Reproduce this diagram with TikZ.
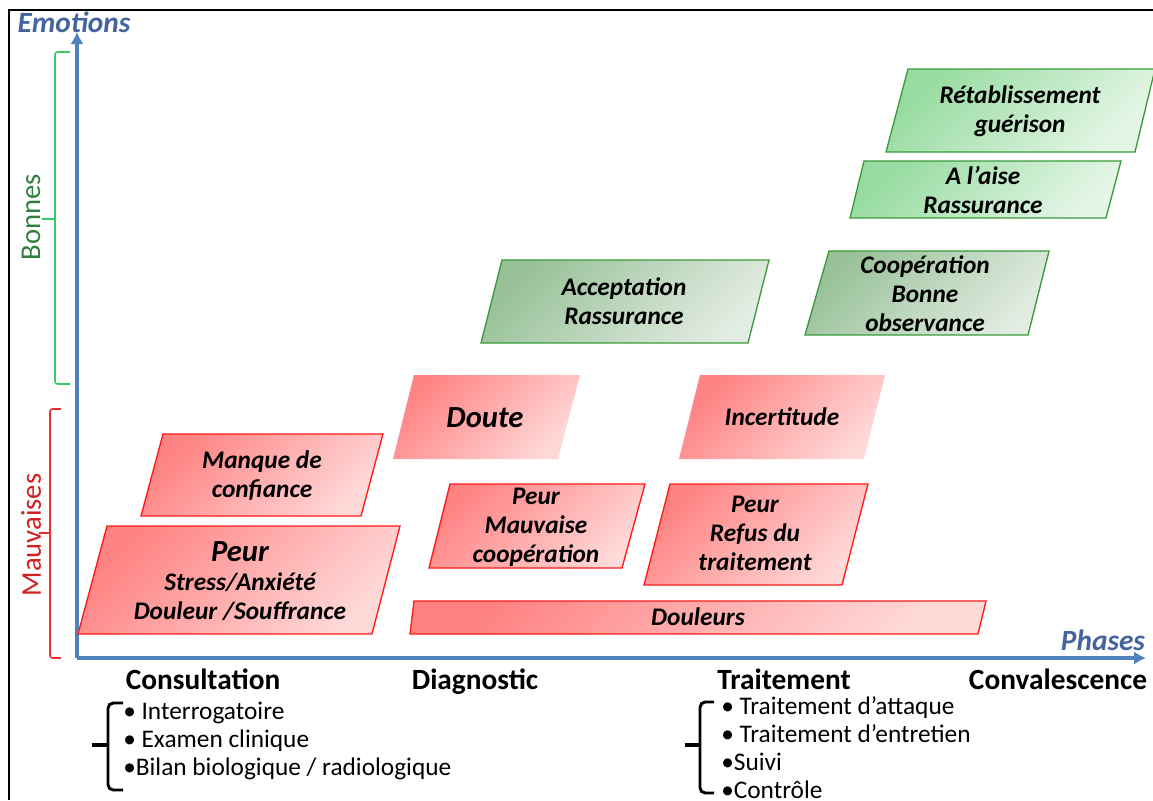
\documentclass[tikz,border=0pt]{standalone}
\usepackage{fontspec}
\setmainfont{Carlito}
\usetikzlibrary{arrows.meta}

\definecolor{axisblue}{HTML}{4F81BD}
\definecolor{titleblue}{HTML}{44649E}
\definecolor{redline}{HTML}{FF1A1A}
\definecolor{redA}{HTML}{FF8282}
\definecolor{redB}{HTML}{FFD8D8}
\definecolor{greenline}{HTML}{3A9A3A}
\definecolor{greenA}{HTML}{97DBA0}
\definecolor{greenB}{HTML}{E4F6E6}
\definecolor{sageA}{HTML}{98C198}
\definecolor{sageB}{HTML}{E2ECE2}
\definecolor{bracegreen}{HTML}{33CC66}
\definecolor{bonnesgreen}{HTML}{2F7F3F}
\definecolor{bracered}{HTML}{E83030}
\definecolor{mauvred}{HTML}{D02020}

\newcommand\bigline{\fontsize{23}{26}\selectfont}

\begin{document}
\begin{tikzpicture}[x=0.75pt,y=-0.75pt,
  shade diag/.style 2 args={top color=#1, bottom color=#2, shading angle=45},
  badbox/.style={draw=redline, line width=1pt, shade diag={redA}{redB}},
  badsoft/.style={shade diag={redA}{redB}},
  goodbox/.style={draw=greenline, line width=1pt, shade diag={greenA}{greenB}},
  sagebox/.style={draw=greenline, line width=1pt, shade diag={sageA}{sageB}},
  boxtext/.style={align=center, font=\fontsize{19}{21.8}\selectfont\bfseries\itshape, text=black, inner sep=0pt},
  axistitle/.style={font=\fontsize{22}{24}\selectfont\bfseries\itshape, text=titleblue, inner sep=0pt},
  phaselabel/.style={font=\fontsize{22}{24}\selectfont\bfseries, text=black, inner sep=0pt, anchor=base},
  steplist/.style={align=left, font=\fontsize{19}{21}\selectfont, text=black, inner sep=0pt, anchor=north west},
  sidelabel/.style={rotate=90, font=\fontsize{21.5}{24}\selectfont, inner sep=0pt},
  axisline/.style={draw=axisblue, line width=3pt, -{Latex[length=9pt,width=10pt]}},
  grpline/.style={line width=1.2pt, rounded corners=2pt},
  listbrace/.style={draw=black, line width=2.2pt, rounded corners=4pt},
  listtick/.style={draw=black, line width=2.4pt}
]
\useasboundingbox (0,0) rectangle (1153,800);

% frame lines
\draw[black, line width=1pt] (9,800) -- (9,10) -- (1153,10);

% axes
\coordinate (O) at (77,658);
\coordinate (ytip) at (77,32);
\coordinate (xtip) at (1146,658);
\draw[axisline] (O) -- (ytip);
\draw[axisline] (O) -- (xtip);
\node[axistitle] (emotions) at (74,22) {Emotions};
\node[axistitle] (phases) at (1103,640) {Phases};

% group brackets along the emotions axis
\draw[grpline, draw=bracegreen] (70,52) -- (55,52) -- (55,384) -- (70,384);
\draw[line width=1.2pt, draw=bracegreen] (55,219) -- (42,219);
\node[sidelabel, text=bonnesgreen] (bonnes) at (31,217) {Bonnes};
\draw[grpline, draw=bracered] (61,409) -- (50,409) -- (50,658) -- (61,658);
\draw[line width=1.2pt, draw=bracered] (50,533) -- (39,533);
\node[sidelabel, text=mauvred] (mauvaises) at (31,535) {Mauvaises};

% bad emotions
\path[badbox] (107,526) -- (400,526) -- (372,634) -- (78,634) -- cycle;
\node[boxtext] (peur1) at (240,581) {{\bigline Peur}\\Stress/Anxiété\\Douleur /Souffrance};
\path[badbox] (163,434) -- (383,434) -- (361,516) -- (141,516) -- cycle;
\node[boxtext] (manque) at (262,476) {Manque de\\confiance};
\path[badsoft] (414,375) -- (580,375) -- (558,459) -- (393,459) -- cycle;
\node[boxtext, font=\bigline\bfseries\itshape] (doute) at (485,418) {Doute};
\path[badbox] (450,484) -- (645,484) -- (622,568) -- (429,568) -- cycle;
\node[boxtext] (peur2) at (536,527) {Peur\\Mauvaise\\coopération};
\path[badbox] (414,601) -- (986,601) -- (978,634) -- (410,634) -- cycle;
\node[boxtext] (douleurs) at (698,617) {Douleurs};
\path[badsoft] (700,375) -- (885,375) -- (864,459) -- (679,459) -- cycle;
\node[boxtext] (incert) at (782,417) {Incertitude};
\path[badbox] (670,484) -- (868,484) -- (842,585) -- (644,585) -- cycle;
\node[boxtext] (peur3) at (755,533) {Peur\\Refus du\\traitement};

% good emotions
\path[sagebox] (502,260) -- (769,260) -- (748,343) -- (481,343) -- cycle;
\node[boxtext] (accept) at (624,301) {Acceptation\\Rassurance};
\path[sagebox] (829,251) -- (1049,251) -- (1028,335) -- (805,335) -- cycle;
\node[boxtext] (coop) at (925,294) {Coopération\\Bonne\\observance};
\path[goodbox] (864,161) -- (1121,161) -- (1106,218) -- (850,218) -- cycle;
\node[boxtext] (aise) at (983,190) {A l’aise\\Rassurance};
\path[goodbox] (908,69) -- (1155,69) -- (1135,152) -- (886,152) -- cycle;
\node[boxtext] (retab) at (1020,111) {Rétablissement\\guérison};

% phases
\node[phaselabel] (consult) at (203,689) {Consultation};
\node[phaselabel] (diag) at (475,689) {Diagnostic};
\node[phaselabel] (trait) at (784,689) {Traitement};
\node[phaselabel] (conval) at (1058,689) {Convalescence};

% steps of each phase
\draw[listbrace] (123,703) -- (108,703) -- (108,790) -- (123,790);
\draw[listtick] (108,745) -- (92,745);
\node[steplist] (steps1) at (123,702) {• Interrogatoire\\• Examen clinique\\•Bilan biologique / radiologique};
\draw[listbrace] (714,702) -- (700,702) -- (700,793) -- (714,793);
\draw[listtick] (700,745) -- (685,745);
\node[steplist] (steps2) at (721,696) {• Traitement d’attaque\\• Traitement d’entretien\\•Suivi\\•Contrôle};
\end{tikzpicture}
\end{document}
